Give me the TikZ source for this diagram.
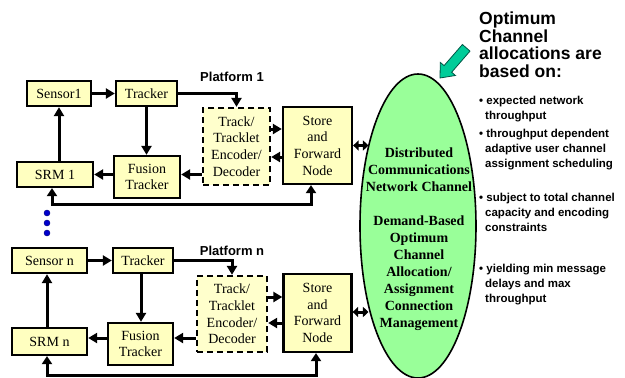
\documentclass[tikz,border=0pt]{standalone}
\usepackage{fontspec}
\setmainfont{Liberation Serif}
\setsansfont{Liberation Sans}
\usetikzlibrary{arrows.meta,shapes.geometric,calc}
\definecolor{boxfill}{HTML}{FFFFC0}
\definecolor{encfill}{HTML}{FFFFCC}
\definecolor{netfill}{HTML}{99FF99}
\definecolor{arrowgreen}{HTML}{00CC99}
\definecolor{arrowedge}{HTML}{005544}
\definecolor{dotblue}{HTML}{0000CC}
\begin{document}
\begin{tikzpicture}[x=1pt,y=-1pt,
  box/.style={draw,line width=2.3pt,fill=boxfill,inner sep=0pt,align=center,
    font=\fontsize{14}{16.7}\selectfont},
  encbox/.style={box,fill=encfill,dash pattern=on 6pt off 4pt},
  arr/.style={line width=3pt,-{Triangle[length=9pt,width=10pt]}},
  darr/.style={line width=3pt,{Triangle[length=8pt,width=10pt]}-{Triangle[length=8pt,width=10pt]}},
  sdarr/.style={line width=3pt,{Triangle[length=5.5pt,width=10pt]}-{Triangle[length=5.5pt,width=10pt]}},
  plat/.style={font=\sffamily\bfseries\fontsize{13}{15}\selectfont,inner sep=0pt},
  nettext/.style={font=\bfseries\fontsize{14}{17}\selectfont,align=center,inner sep=0pt},
  head/.style={anchor=north west,inner sep=0pt,align=left,
    font=\sffamily\bfseries\fontsize{17.5}{17.5}\selectfont},
  bul/.style={anchor=north west,inner sep=0pt,align=left,
    font=\sffamily\bfseries\fontsize{11.5}{15}\selectfont},
  dot/.style={fill=dotblue,draw=dotblue!60!black,line width=0.4pt}]
\useasboundingbox (0,0) rectangle (625,378);

% ---------- network ellipse ----------
\node[ellipse,draw,line width=1.6pt,fill=netfill,minimum width=116pt,
  minimum height=304pt,inner sep=0pt] (net) at (418,226) {};
\node[nettext] (nettxt) at (419,239) {Distributed\\Communications\\Network Channel\\[17pt]Demand-Based\\Optimum\\Channel\\Allocation/\\Assignment\\Connection\\Management};

% ---------- platform 1 ----------
\node[plat] (plat1) at (232,77) {Platform 1};
\node[box,minimum width=64pt,minimum height=25pt] (sen1) at (59,93.5) {Sensor1};
\node[box,minimum width=61pt,minimum height=25pt] (trk1) at (146.5,93.5) {Tracker};
\node[encbox,minimum width=67pt,minimum height=77pt] (enc1) at (236.5,146.5) {Track/\\Tracklet\\Encoder/\\Decoder};
\node[box,minimum width=69pt,minimum height=77pt] (sf1) at (317.5,145.5) {Store\\and\\Forward\\Node};
\node[box,minimum width=66pt,minimum height=42pt] (fus1) at (147,177) {Fusion\\Tracker};
\node[box,minimum width=76pt,minimum height=25pt] (srm1) at (55,174.5) {SRM 1};

\coordinate (e1a) at (0,129);
\coordinate (e1b) at (0,157);
\coordinate (l1a) at (52,204);
\coordinate (l1b) at (311,204);

\draw[arr] (sen1) -- (trk1);
\draw[arr] (trk1.east) -| (enc1.north);
\draw[arr] (trk1.south) -- (trk1.south |- fus1.north);
\draw[arr] (enc1.west |- srm1.east) -- (fus1.east |- srm1.east);
\draw[arr] (fus1.west |- srm1.east) -- (srm1.east);
\draw[arr] (sen1.south |- srm1.north) -- (sen1.south);
\draw[arr] (enc1.east |- e1a) -- (sf1.west |- e1a);
\draw[arr] (sf1.west |- e1b) -- (enc1.east |- e1b);
\draw[darr] (srm1.south -| l1a) -- (l1a) -- (l1b) -- (sf1.south -| l1b);
\draw[sdarr] (sf1.east) -- (sf1.east -| net.121);

% ---------- dots ----------
\path[dot] (47,213) circle (3pt);
\path[dot] (47,223) circle (3pt);
\path[dot] (47,233) circle (3pt);

% ---------- platform n ----------
\node[plat] (platn) at (232,251) {Platform n};
\node[box,minimum width=75pt,minimum height=25pt] (senn) at (49.5,260.5) {Sensor n};
\node[box,minimum width=60pt,minimum height=25pt] (trkn) at (143,260.5) {Tracker};
\node[encbox,minimum width=70pt,minimum height=76pt] (encn) at (232,314) {Track/\\Tracklet\\Encoder/\\Decoder};
\node[box,minimum width=68pt,minimum height=78pt] (sfn) at (317.5,313) {Store\\and\\Forward\\Node};
\node[box,minimum width=65pt,minimum height=42pt] (fusn) at (140.5,344) {Fusion\\Tracker};
\node[box,minimum width=75pt,minimum height=27pt] (srmn) at (49.5,341.5) {SRM n};

\coordinate (ena) at (0,297);
\coordinate (enb) at (0,323);
\coordinate (yn) at (0,338);
\coordinate (lna) at (47,375);
\coordinate (lnb) at (316,375);

\draw[arr] (senn) -- (trkn);
\draw[arr] (trkn.east) -| (encn.north);
\draw[arr] (trkn.south -| 141,0) -- (fusn.north -| 141,0);
\draw[arr] (encn.west |- yn) -- (fusn.east |- yn);
\draw[arr] (fusn.west |- yn) -- (srmn.east |- yn);
\draw[arr] (srmn.north -| lna) -- (senn.south -| lna);
\draw[arr] (encn.east |- ena) -- (sfn.west |- ena);
\draw[arr] (sfn.west |- enb) -- (encn.east |- enb);
\draw[darr] (srmn.south -| lna) -- (lna) -- (lnb) -- (sfn.south -| lnb);
\draw[sdarr] (sfn.east |- 0,312) -- (net.239 |- 0,312);

% ---------- green pointer ----------
\draw[line width=0.8pt,draw=arrowedge,fill=arrowgreen,line join=miter]
  (440,78) -- (455.4,75.5) -- (451.7,72.2) -- (470,51.1) -- (462.4,44.5)
  -- (444.1,65.6) -- (440.3,62.4) -- cycle;

% ---------- right-hand text ----------
\node[head] (hd) at (479,12) {Optimum\\Channel\\allocations are\\based on:};
\node[bul] (b1) at (479,95.5) {\textbullet\ expected network\\\hspace*{6pt}throughput};
\node[bul] (b2) at (479,128.5) {\textbullet\ throughput dependent\\\hspace*{6pt}adaptive user channel\\\hspace*{6pt}assignment scheduling};
\node[bul] (b3) at (479,192.5) {\textbullet\ subject to total channel\\\hspace*{6pt}capacity and encoding\\\hspace*{6pt}constraints};
\node[bul] (b4) at (479,263.5) {\textbullet\ yielding min message\\\hspace*{6pt}delays and max\\\hspace*{6pt}throughput};
\end{tikzpicture}
\end{document}
